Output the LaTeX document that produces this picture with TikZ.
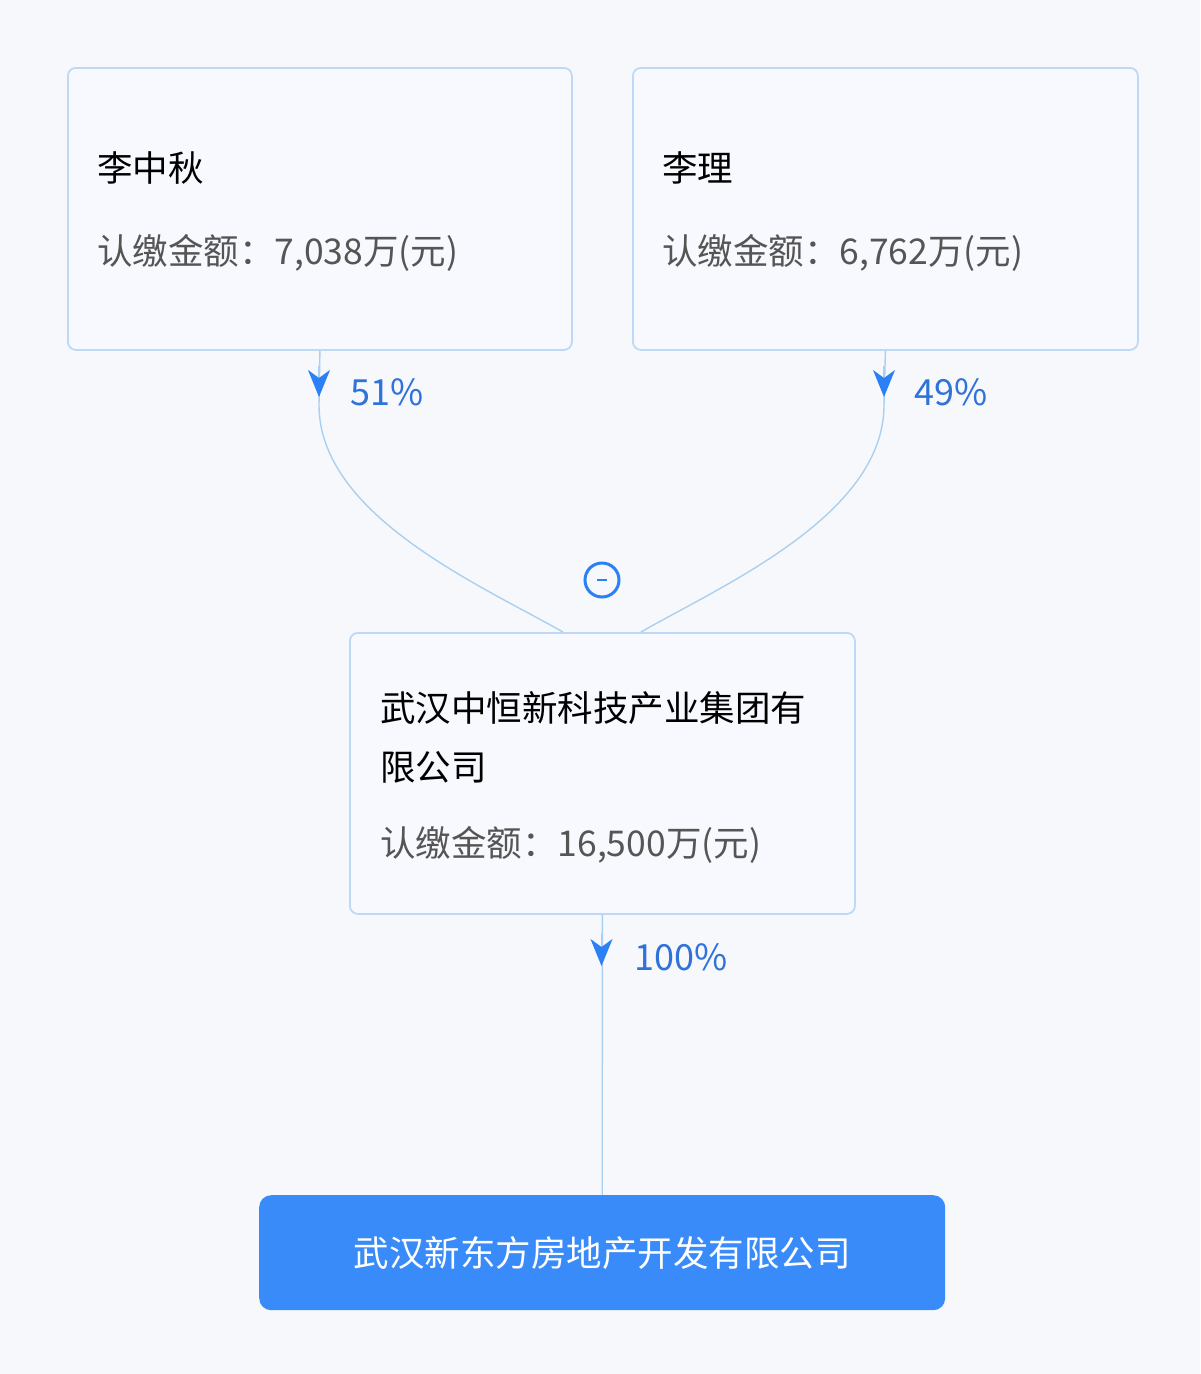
\documentclass[tikz,border=0pt]{standalone}
\usepackage{fontspec}
\setmainfont{Noto Sans CJK SC}
\newfontfamily\cjk{Noto Sans CJK SC}
\usetikzlibrary{arrows.meta}
\definecolor{bg}{HTML}{F7F8FC}
\definecolor{boxfill}{HTML}{F8F9FE}
\definecolor{boxline}{HTML}{BDD9F5}
\definecolor{conncol}{HTML}{A9D0F0}
\definecolor{tipblue}{HTML}{2B80F6}
\definecolor{pctblue}{HTML}{2F72DA}
\definecolor{mainblue}{HTML}{3A8BFA}
\definecolor{amountgray}{HTML}{555555}
\tikzset{
  holder/.style={draw=boxline, fill=boxfill, line width=1.8pt, rounded corners=8pt, anchor=north west},
  target/.style={fill=mainblue, rounded corners=12pt, text=white, font=\cjk\fontsize{35.5}{40}\selectfont, anchor=north west},
  nametext/.style={anchor=west, text=black, font=\cjk\fontsize{35.5}{40}\selectfont, inner sep=0pt},
  amounttext/.style={anchor=west, text=amountgray, font=\cjk\fontsize{35.5}{40}\selectfont, inner sep=0pt},
  pct/.style={anchor=west, text=pctblue, font=\cjk\fontsize{36}{40}\selectfont, inner sep=0pt},
  conn/.style={draw=conncol, line width=1.4pt},
  tipmark/.style={draw=conncol, line width=1.4pt, -{Stealth[tipblue, length=27pt, width=22pt, inset=8pt]}},
}
\begin{document}
\begin{tikzpicture}[x=1pt,y=-1pt]
\path[use as bounding box, fill=bg] (0,0) rectangle (1200,1374);

% boxes
\node[holder, minimum width=504pt, minimum height=282pt] (p1) at (67,67) {};
\node[holder, minimum width=505pt, minimum height=282pt] (p2) at (632,67) {};
\node[holder, minimum width=505pt, minimum height=281pt] (co) at (349,632) {};
\node[target, minimum width=686pt, minimum height=115pt] (tg) at (259,1195) {武汉新东方房地产开发有限公司};

% texts
\node[nametext] (p1name) at (97,168) {李中秋};
\node[amounttext] (p1amt) at (97,253) {认缴金额：7,038万(元)};
\node[nametext] (p2name) at (662,168) {李理};
\node[amounttext] (p2amt) at (662,253) {认缴金额：6,762万(元)};
\node[nametext] (coname1) at (380,708) {武汉中恒新科技产业集团有};
\node[nametext] (coname2) at (380,767) {限公司};
\node[amounttext] (coamt) at (380,845) {认缴金额：16,500万(元)};

% connectors
\coordinate (in1) at (563,632);
\coordinate (in2) at (641,632);
\coordinate (b1) at (319,405);
\coordinate (b2) at (884,405);
\draw[conn] (p1.south) -- (b1) .. controls (319,515) and (480,585) .. (in1);
\draw[conn] (p2.south) -- (b2) .. controls (884,515) and (723,585) .. (in2);
\draw[conn] (co.south) -- (tg.north);

% arrow tips
\coordinate (t1a) at (319,366);
\coordinate (t1b) at (319,397);
\coordinate (t2a) at (884,366);
\coordinate (t2b) at (884,397);
\coordinate (t3a) at (601.5,933);
\coordinate (t3b) at (601.5,966);
\draw[tipmark] (t1a) -- (t1b);
\draw[tipmark] (t2a) -- (t2b);
\draw[tipmark] (t3a) -- (t3b);

% percentages
\node[pct] (l1) at (350,392) {51\%};
\node[pct] (l2) at (914,392) {49\%};
\node[pct] (l3) at (634,957) {100\%};

% collapse button
\node[circle, draw=tipblue, line width=3pt, minimum size=34pt, inner sep=0pt] (btn) at (602,580) {};
\draw[tipblue, line width=2.4pt] ([xshift=-5pt]btn.center) -- ([xshift=5pt]btn.center);
\end{tikzpicture}
\end{document}
